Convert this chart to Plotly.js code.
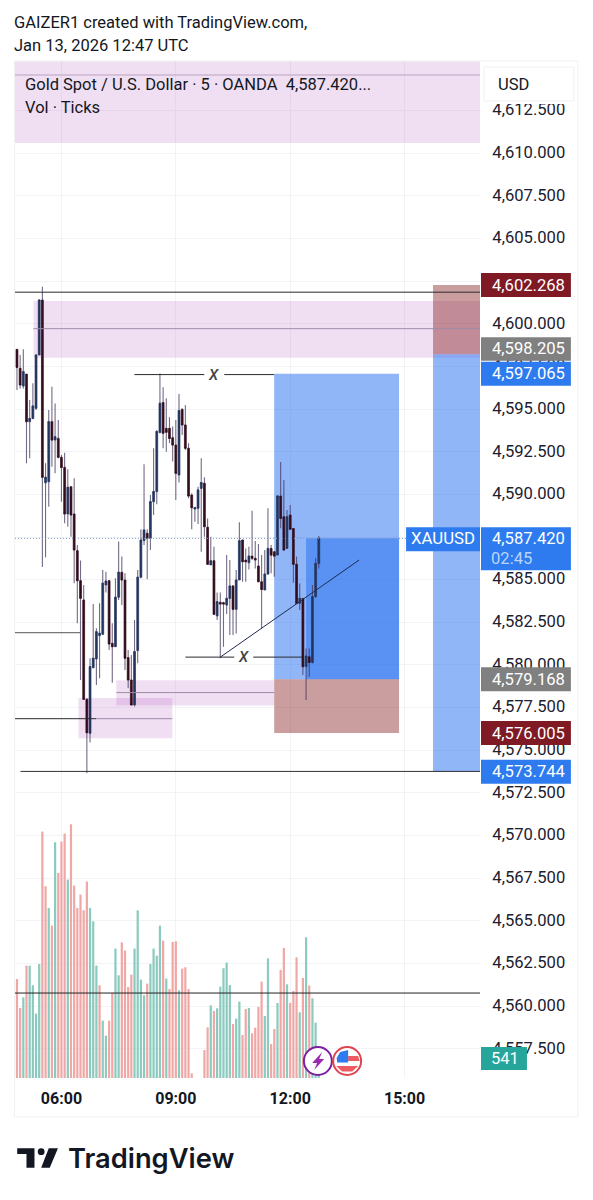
<!DOCTYPE html>
<html>
<head>
<meta charset="utf-8">
<script src="https://cdn.plot.ly/plotly-3.0.1.min.js"></script>
<style>html,body{margin:0;padding:0;background:#fff}#chart{width:593px;height:1200px}</style>
</head>
<body>
<div id="chart"></div>
<script>
// First bar 04:50, one bar every 5 minutes (x axis is minutes since midnight)
const firstBarMinute = 290;
const barMinutes = 5;
const open = [4598.50,4597.39,4596.35,4597.05,4594.26,4594.45,4595.04,4598.17,4601.39,4590.68,4590.74,4594.26,4593.18,4593.28,4592.17,4591.58,4588.85,4590.45,4588.85,4586.70,4584.94,4583.81,4577.99,4575.99,4579.84,4580.35,4581.72,4581.80,4584.69,4584.94,4581.27,4581.07,4583.97,4585.43,4584.98,4580.43,4579.12,4577.66,4580.84,4585.14,4587.29,4587.72,4587.42,4589.57,4590.16,4593.62,4595.38,4593.87,4593.87,4593.32,4592.89,4591.13,4594.98,4594.07,4592.70,4589.96,4589.14,4589.18,4590.35,4590.65,4588.07,4585.86,4586.11,4582.87,4583.67,4583.65,4583.51,4583.90,4584.63,4583.26,4584.98,4587.32,4586.15,4585.99,4586.38,4586.25,4585.80,4584.88,4584.39,4585.33,4586.83,4586.64,4586.44,4589.90,4588.69,4586.83,4588.79,4588.00,4585.90,4583.61,4583.90,4579.90,4580.48,4580.15,4584.00,4585.95];
const high = [4598.50,4598.17,4598.50,4597.05,4595.53,4596.51,4598.17,4601.43,4602.17,4591.82,4594.94,4596.31,4595.33,4594.36,4592.30,4592.44,4591.47,4590.45,4590.94,4587.03,4586.12,4584.69,4578.05,4580.39,4583.58,4582.15,4583.61,4585.57,4585.47,4584.98,4582.44,4585.08,4587.23,4586.35,4585.37,4580.88,4580.59,4582.64,4585.57,4587.95,4591.76,4587.95,4589.96,4592.70,4593.77,4597.09,4596.27,4595.63,4594.52,4593.97,4594.36,4595.88,4595.04,4595.24,4592.99,4590.06,4589.28,4590.45,4592.11,4591.00,4588.59,4587.52,4586.93,4584.24,4584.24,4583.71,4586.44,4586.15,4584.68,4585.56,4588.36,4587.36,4586.83,4586.93,4589.04,4587.26,4587.09,4586.44,4586.74,4589.18,4587.03,4586.64,4589.96,4591.90,4590.84,4589.08,4589.37,4588.00,4586.35,4584.78,4583.90,4580.97,4580.97,4584.68,4586.25,4587.56];
const low = [4596.12,4596.21,4596.21,4591.82,4592.11,4594.40,4594.94,4598.17,4585.74,4586.31,4589.28,4591.62,4591.23,4592.11,4589.57,4588.30,4588.10,4587.52,4584.79,4582.44,4579.12,4577.95,4573.65,4575.45,4579.80,4578.83,4579.22,4581.76,4584.24,4580.88,4578.96,4581.07,4583.81,4583.52,4579.71,4578.63,4577.66,4577.56,4580.10,4585.08,4587.03,4585.02,4586.74,4588.79,4589.42,4593.58,4592.70,4592.50,4592.99,4591.92,4589.67,4590.69,4593.48,4592.60,4589.77,4587.95,4588.40,4588.26,4586.64,4587.52,4585.86,4585.86,4582.93,4582.63,4580.39,4581.07,4582.99,4581.75,4581.75,4581.85,4584.98,4584.88,4584.88,4585.60,4586.15,4585.66,4584.88,4582.14,4584.39,4585.27,4585.37,4585.17,4586.44,4588.01,4586.70,4586.83,4587.95,4584.82,4583.57,4583.22,4579.41,4577.94,4579.31,4580.09,4583.96,4585.66];
const close = [4597.44,4596.41,4597.19,4594.26,4594.45,4595.18,4598.17,4601.39,4591.00,4591.00,4594.26,4593.18,4593.38,4592.17,4591.58,4588.85,4590.41,4588.79,4586.74,4584.94,4583.91,4577.99,4576.03,4579.90,4580.39,4581.95,4581.86,4584.79,4584.92,4581.23,4581.07,4583.97,4585.43,4584.98,4580.39,4579.12,4577.66,4580.78,4585.14,4587.32,4587.91,4587.42,4589.57,4590.16,4593.68,4595.34,4593.58,4593.64,4593.28,4592.89,4591.23,4594.91,4594.07,4592.70,4589.90,4589.22,4589.22,4590.26,4590.69,4588.11,4585.90,4586.11,4582.97,4583.71,4583.57,4583.57,4583.90,4584.63,4583.26,4584.98,4587.28,4586.05,4586.05,4586.38,4586.25,4586.15,4584.88,4584.43,4585.33,4586.83,4586.44,4586.38,4589.90,4588.59,4586.74,4588.69,4587.95,4585.90,4583.61,4583.90,4579.90,4580.52,4580.15,4584.00,4585.95,4587.42];
const volume = [2679,1894,2183,3040,3040,2508,1741,3085,6666,5187,4600,4122,6377,5547,6395,6612,5367,6864,5205,4600,4961,4537,5313,4600,4239,3040,2508,1551,1146,1551,2300,3500,2778,3671,3446,2462,2796,3500,4537,2661,2237,2553,3085,3500,3310,4122,3716,2688,2408,3680,3698,2372,2959,2995,2408,126,0,0,0,758,1371,1966,1813,1885,2471,2968,3121,2517,1461,1606,2066,1164,1867,1894,1209,1362,1921,2607,1678,3238,920,1326,2030,2922,3518,2535,2030,2354,3265,1777,2706,3806,2499,2156,1497,541];
const volumeSide = "DDUDUUUUDDUDUDDDUDDDDDDUUUDUUDDUUDDDDUUUUDUUUUDUDDDUDDDDDDDDDUDUUUUUDUUDDUDDDDUUDDUDDUDDDUDUDUUU".split("");

const timeTickValues = [360, 540, 720, 900];
const timeTickLabels = ["06:00", "09:00", "12:00", "15:00"];
const priceTickValues = [4557.5,4560,4562.5,4565,4567.5,4570,4572.5,4575,4577.5,4580,4582.5,4585,4587.5,4590,4592.5,4595,4597.5,4600,4602.5,4605,4607.5,4610,4612.5];
const priceTickLabels = priceTickValues.map(v => v.toLocaleString("en-US", {minimumFractionDigits: 3, maximumFractionDigits: 3}));

const labelTexts = ["4,602.268", "4,598.205", "4,597.065", "4,587.420", "4,579.168", "4,576.005", "4,573.744"];
const labelPrices = [4602.268, 4598.205, 4597.065, 4587.42, 4579.168, 4576.005, 4573.744];
const labelColors = ["#7f1a24", "#808080", "#2d7bee", "#2d7bee", "#808080", "#7f1a24", "#2d7bee"];
const labelNudge = [0, 5.5, 0, 0, 0, 0, 0];

const times = open.map((_, i) => firstBarMinute + i * barMinutes);
const INK = "#131722", FONT = "Roboto, sans-serif";
const PINK = "rgba(156,39,176,0.15)", BLUE = "rgba(33,109,239,0.5)", ROSE = "rgba(128,25,25,0.42)";
const PL = 14.5, PR = 480, PT = 61, PB = 1078;
const X = px => (px - PL) / (PR - PL);
const Y = py => (PB - py) / (PB - PT);
const xr = [286.9, 1018.7], yr = [4555.79, 4615.40];

const wick = {
  type: "candlestick", x: times, open: close, close: close, high: high, low: low,
  whiskerwidth: 0, hoverinfo: "skip", showlegend: false,
  increasing: {line: {color: "rgba(62,50,88,0.72)", width: 1.1}, fillcolor: "rgba(0,0,0,0)"},
  decreasing: {line: {color: "rgba(62,50,88,0.72)", width: 1.1}, fillcolor: "rgba(0,0,0,0)"}
};
const body = {
  type: "candlestick", x: times, open: open, close: close,
  high: open.map((o, i) => Math.max(o, close[i])), low: open.map((o, i) => Math.min(o, close[i])),
  whiskerwidth: 0, hoverinfo: "skip", showlegend: false,
  increasing: {line: {color: "#24355f", width: 0.7}, fillcolor: "#24355f"},
  decreasing: {line: {color: "#330d1d", width: 0.7}, fillcolor: "#330d1d"}
};
const vols = {
  type: "bar", x: times, y: volume, yaxis: "y2", width: 3.5, hoverinfo: "skip", showlegend: false,
  marker: {color: volumeSide.map(s => s === "U" ? "#8bcabf" : "#efa8a6"), line: {width: 0}}
};

const zone = (x0, x1, y0, y1, fill) => ({type: "rect", layer: "between", xref: "x", yref: "y", x0, x1, y0, y1, fillcolor: fill, line: {width: 0}});
const hline = (x0, x1, y, color, width, dash) => ({type: "line", layer: "above", xref: "x", yref: "y", x0, x1, y0: y, y1: y, line: {color: color || "#2a2a2e", width: width || 1, dash: dash || "solid"}});
const pxRect = (x0, y0, x1, y1, fill, line) => ({type: "rect", layer: "above", xref: "paper", yref: "paper", x0: X(x0), x1: X(x1), y0: Y(y0), y1: Y(y1), fillcolor: fill, line: line || {width: 0}});
const pxCircle = (cx, cy, r, fill, line) => Object.assign(pxRect(cx - r, cy - r, cx + r, cy + r, fill, line), {type: "circle"});
const pxPoly = (pts, fill) => ({type: "path", layer: "above", xref: "paper", yref: "paper", fillcolor: fill, line: {width: 0}, path: "M" + pts.map(p => X(p[0]) + "," + Y(p[1])).join("L") + "Z"});
const priceBox = (x0, x1, price, above, below, fill) => ({type: "rect", layer: "above", xref: "paper", yref: "y", ysizemode: "pixel", yanchor: price, x0: X(x0), x1: X(x1), y0: -below, y1: above, fillcolor: fill, line: {width: 0}});

const shapes = [
  pxRect(14, 61, 578, 1117, "rgba(0,0,0,0)", {color: "#f0f1f4", width: 1}),
  // supply / demand zones
  zone(xr[0], xr[1], 4610.59, 4615.40, PINK),
  zone(316, xr[1], 4598.0, 4601.33, PINK),
  zone(386.7, 534.5, 4575.71, 4578.06, PINK),
  zone(446.5, 694.8, 4577.62, 4579.11, PINK),
  // long position tool
  zone(694.8, 891.3, 4579.168, 4597.065, BLUE),
  zone(745, 891.3, 4579.168, 4587.42, BLUE),
  zone(694.8, 891.3, 4576.005, 4579.168, ROSE),
  // right band
  zone(944.8, xr[1], 4598.205, 4602.268, ROSE),
  zone(944.8, xr[1], 4573.744, 4598.205, BLUE),
  // lines
  hline(xr[0], xr[1], 4614.58, "#b9a4c0", 1),
  hline(316, xr[1], 4599.71, "#9f8aa8", 1),
  hline(xr[0], xr[1], 4601.85, "#2a2a2e", 1),
  hline(xr[0], 389.9, 4581.89, "#555", 1),
  hline(xr[0], 415, 4576.85, "#2a2a2e", 1),
  hline(415, 534.5, 4576.85, "#9f8aa8", 1),
  hline(446.5, 694.8, 4578.38, "#9f8aa8", 1),
  hline(295.5, xr[1], 4573.76, "#333", 1),
  hline(xr[0], xr[1], 4560.77, "#222", 1),
  hline(474.8, 584.8, 4597.02, "#2a2a2e", 1),
  hline(616.2, 694.8, 4597.02, "#2a2a2e", 1),
  hline(555, 632, 4580.46, "#2a2a2e", 1),
  hline(661.8, 738.9, 4580.46, "#2a2a2e", 1),
  {type: "line", layer: "above", xref: "x", yref: "y", x0: 610, x1: 828.5, y0: 4580.46, y1: 4586.15, line: {color: "#1f2b4d", width: 1}},
  hline(xr[0], 902.3, 4587.42, "#7a9cc6", 1, "1px,2px"),
  // USD box
  pxRect(482, 62, 577, 104, "#ffffff"),
  pxRect(484, 67, 574, 101, "#ffffff", {color: "#f0f1f4", width: 1}),
  // price labels
  priceBox(481, 571, 4602.268, 12, 12, labelColors[0]),
  priceBox(481, 571, 4598.205, 17, 6.5, labelColors[1]),
  priceBox(481, 571, 4597.065, 12, 12, labelColors[2]),
  priceBox(481, 571, 4587.42, 11, 32, labelColors[3]),
  priceBox(481, 571, 4579.168, 12, 12, labelColors[4]),
  priceBox(481, 571, 4576.005, 12, 12, labelColors[5]),
  priceBox(481, 571, 4573.744, 12, 12, labelColors[6]),
  priceBox(406, 480, 4587.42, 11, 13, "#2d7bee"),
  pxRect(481, 1047, 527, 1070, "#26a69a"),
  // badges
  pxCircle(317.7, 1061, 14, "#ffffff", {color: "#7b1fa2", width: 2}),
  pxPoly([[322, 1052], [312, 1063], [317, 1063], [314, 1070], [324, 1059], [319, 1059]], "#9c27b0"),
  pxCircle(347, 1061, 14, "#ffffff", {color: "#e0424f", width: 2}),
  pxPoly([[348, 1056], [358, 1056], [359.5, 1061], [348, 1061]], "#ee5a62"),
  pxPoly([[336, 1066], [358, 1066], [352, 1071.5], [342, 1071.5]], "#ee5a62"),
  pxPoly([[337, 1062.5], [336.5, 1058], [340, 1052], [348, 1050], [348, 1062.5]], "#2d7bee"),
  // TradingView logo
  pxPoly([[16.7, 1148.3], [34, 1148.3], [34, 1167.7], [26, 1167.7], [26, 1154], [16.7, 1154]], INK),
  pxCircle(40.7, 1151.7, 3.4, INK, {width: 0}),
  pxPoly([[48.3, 1148.3], [57.5, 1148.3], [49.3, 1167.7], [40.7, 1167.7]], INK)
];

const note = (x, y, text, extra) => Object.assign({xref: "paper", yref: "paper", x: X(x - 2.5), y: Y(y), text, showarrow: false, xanchor: "left", yanchor: "middle", align: "left", font: {family: FONT, size: 16.5, color: INK}}, extra || {});
const annotations = [
  note(14, 22, "GAIZER1 created with TradingView.com,"),
  note(14, 46, "Jan 13, 2026 12:47 UTC"),
  note(25, 84, "Gold Spot / U.S. Dollar · 5 · OANDA  4,587.420..."),
  note(25, 107, "Vol · Ticks"),
  note(499, 84, "USD"),
  note(68, 1158, "TradingView", {font: {family: "Inter, sans-serif", size: 27.3, color: INK, weight: 600}}),
  note(492, 558, "02:45", {font: {family: FONT, size: 16.6, color: "#bcd4fb"}}),
  {xref: "x", yref: "y", x: 599, y: 4597.02, text: "<i>X</i>", showarrow: false, font: {family: FONT, size: 15, color: "#444", weight: 500}},
  {xref: "x", yref: "y", x: 646, y: 4580.46, text: "<i>X</i>", showarrow: false, font: {family: FONT, size: 15, color: "#444", weight: 500}},
  {xref: "paper", yref: "y", x: X(442.5), y: 4587.42, yanchor: "middle", text: "XAUUSD", showarrow: false, xanchor: "center", font: {family: FONT, size: 16.8, color: "#fff"}},
  {xref: "paper", yref: "paper", x: X(505.5), y: Y(1058.5), yanchor: "middle", text: "541", showarrow: false, xanchor: "center", font: {family: FONT, size: 16.5, color: "#fff"}}
];
labelTexts.forEach((text, i) => {
  annotations.push({xref: "paper", yref: "y", x: X(528.5), y: labelPrices[i], yshift: labelNudge[i], yanchor: "middle", text, showarrow: false, xanchor: "center", align: "center",
    font: {family: FONT, size: 16.6, color: "#fff"}});
});

const layout = {
  width: 593, height: 1200, autosize: false, paper_bgcolor: "#fff", plot_bgcolor: "#fff",
  margin: {l: PL, r: 593 - PR, t: PT, b: 1200 - PB, pad: 0},
  showlegend: false, hovermode: false, boxgap: 0.15,
  xaxis: {type: "linear", range: xr, tickmode: "array", tickvals: timeTickValues, ticktext: timeTickLabels, showgrid: true, gridcolor: "#f2f3f6", zeroline: false, showline: false, ticks: "outside", ticklen: 6, tickcolor: "rgba(0,0,0,0)", tickfont: {family: FONT, size: 16, color: INK, weight: 700}, rangeslider: {visible: false}, fixedrange: true},
  yaxis: {type: "linear", side: "right", range: yr, tickmode: "array", tickvals: priceTickValues, ticktext: priceTickLabels, showgrid: true, gridcolor: "#f2f3f6", zeroline: false, showline: false, ticks: "outside", ticklen: 8, tickcolor: "rgba(0,0,0,0)", ticklabelshift: -1, tickfont: {family: FONT, size: 16.6, color: "#1c2030"}, automargin: false, fixedrange: true},
  yaxis2: {overlaying: "y", side: "right", range: [0, 27510], visible: false, fixedrange: true},
  shapes, annotations
};
Plotly.newPlot("chart", [vols, wick, body], layout, {displayModeBar: false, staticPlot: true});
</script>
</body>
</html>
